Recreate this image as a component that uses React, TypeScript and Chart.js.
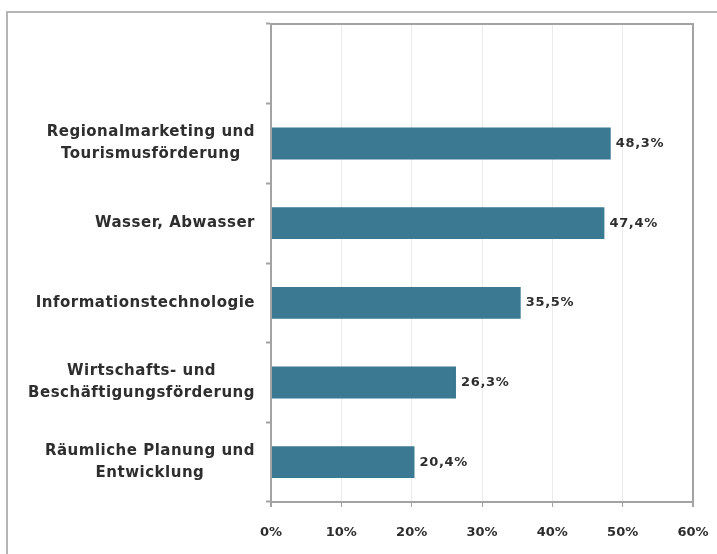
import React, { useEffect, useRef } from "react";
import { Chart, registerables } from "chart.js";

Chart.register(...registerables);

const categories: string[][] = [
  [],
  ["Regionalmarketing und", "Tourismusförderung"],
  ["Wasser, Abwasser"],
  ["Informationstechnologie"],
  ["Wirtschafts- und", "Beschäftigungsförderung"],
  ["Räumliche Planung und", "Entwicklung"],
];
const values: (number | null)[] = [null, 48.3, 47.4, 35.5, 26.3, 20.4];
const xTicks: number[] = [0, 10, 20, 30, 40, 50, 60];

const FONT = "'DejaVu Sans', Verdana, sans-serif";
const AXIS = "#a3a3a3";
const TEXT = "#2e2e2e";

const framePlugin = {
  id: "framePlugin",
  beforeDraw(chart: any) {
    const ctx = chart.ctx;
    ctx.save();
    ctx.strokeStyle = "#b5b5b5";
    ctx.lineWidth = 2;
    ctx.strokeRect(7, 12, 900, 900);
    ctx.restore();
  },
  afterDraw(chart: any) {
    const { ctx, chartArea } = chart;
    ctx.save();
    ctx.strokeStyle = AXIS;
    ctx.lineWidth = 2;
    ctx.beginPath();
    ctx.moveTo(chartArea.left - 1, chartArea.top);
    ctx.lineTo(chartArea.right + 1, chartArea.top);
    ctx.moveTo(chartArea.right, chartArea.top);
    ctx.lineTo(chartArea.right, chartArea.bottom);
    ctx.stroke();

    // category labels: lines centered within each block, blocks right-aligned
    const yScale = chart.scales.y;
    ctx.font = `bold 15px ${FONT}`;
    (ctx as any).letterSpacing = "0.5px";
    ctx.fillStyle = TEXT;
    ctx.textAlign = "center";
    ctx.textBaseline = "middle";
    const lh = 22;
    const rightEdge = chartArea.left - 16;
    categories.forEach((lines, i) => {
      if (!lines.length) return;
      const yc = yScale.getPixelForValue(i);
      const widest = Math.max(...lines.map((l) => ctx.measureText(l).width));
      const xc = rightEdge - widest / 2;
      lines.forEach((l, j) => {
        ctx.fillText(l, xc, yc + (j - (lines.length - 1) / 2) * lh);
      });
    });

    // value labels
    const meta = chart.getDatasetMeta(0);
    ctx.font = `bold 13px ${FONT}`;
    (ctx as any).letterSpacing = "0.7px";
    ctx.textAlign = "left";
    meta.data.forEach((bar: any, i: number) => {
      const v = values[i];
      if (v == null) return;
      ctx.fillText(v.toFixed(1).replace(".", ",") + "%", bar.x + 5, bar.y);
    });
    (ctx as any).letterSpacing = "0px";
    ctx.restore();
  },
};

export default function App() {
  const ref = useRef<HTMLCanvasElement>(null);
  useEffect(() => {
    if (!ref.current) return;
    const chart = new Chart(ref.current, {
      type: "bar",
      data: {
        labels: categories.map((c) => c.join(" ")),
        datasets: [
          {
            data: values,
            backgroundColor: "#3b7891",
            borderWidth: 0,
            barPercentage: 0.4,
            categoryPercentage: 1,
          },
        ],
      },
      options: {
        indexAxis: "y",
        responsive: false,
        animation: false,
        layout: { padding: { top: 24, right: 24, left: 0, bottom: 0 } },
        plugins: {
          legend: { display: false },
          tooltip: { enabled: false },
        },
        scales: {
          x: {
            min: 0,
            max: 60,
            afterBuildTicks: (s: any) => {
              s.ticks = xTicks.map((v) => ({ value: v }));
            },
            afterFit: (s: any) => {
              s.height = 52;
              s.paddingLeft = 0;
              s.paddingRight = 0;
            },
            ticks: {
              callback: (v: any) => v + "%",
              color: TEXT,
              font: { family: FONT, size: 13, weight: "bold" },
              padding: 18,
            },
            grid: {
              color: (c: any) => (c.tick && (c.tick.value === 0 || c.tick.value === 60) ? AXIS : "#ebebeb"),
              lineWidth: (c: any) => (c.tick && (c.tick.value === 0 || c.tick.value === 60) ? 2 : 1),
              tickColor: AXIS,
              tickLength: 5,
              drawTicks: true,
            },
            border: { display: true, color: AXIS, width: 2 },
          },
          y: {
            afterFit: (s: any) => {
              s.width = 271;
              s.paddingTop = 0;
              s.paddingBottom = 0;
            },
            ticks: { display: false },
            grid: {
              offset: true,
              drawOnChartArea: false,
              tickColor: AXIS,
              tickLength: 5,
              tickWidth: 2,
            },
            border: { display: true, color: AXIS, width: 2 },
          },
        },
      },
      plugins: [framePlugin],
    });
    return () => chart.destroy();
  }, []);
  return (
    <div style={{ position: "absolute", left: 0, top: 0, width: 717, height: 554, background: "#fff" }}>
      <canvas ref={ref} width={717} height={554} />
    </div>
  );
}
